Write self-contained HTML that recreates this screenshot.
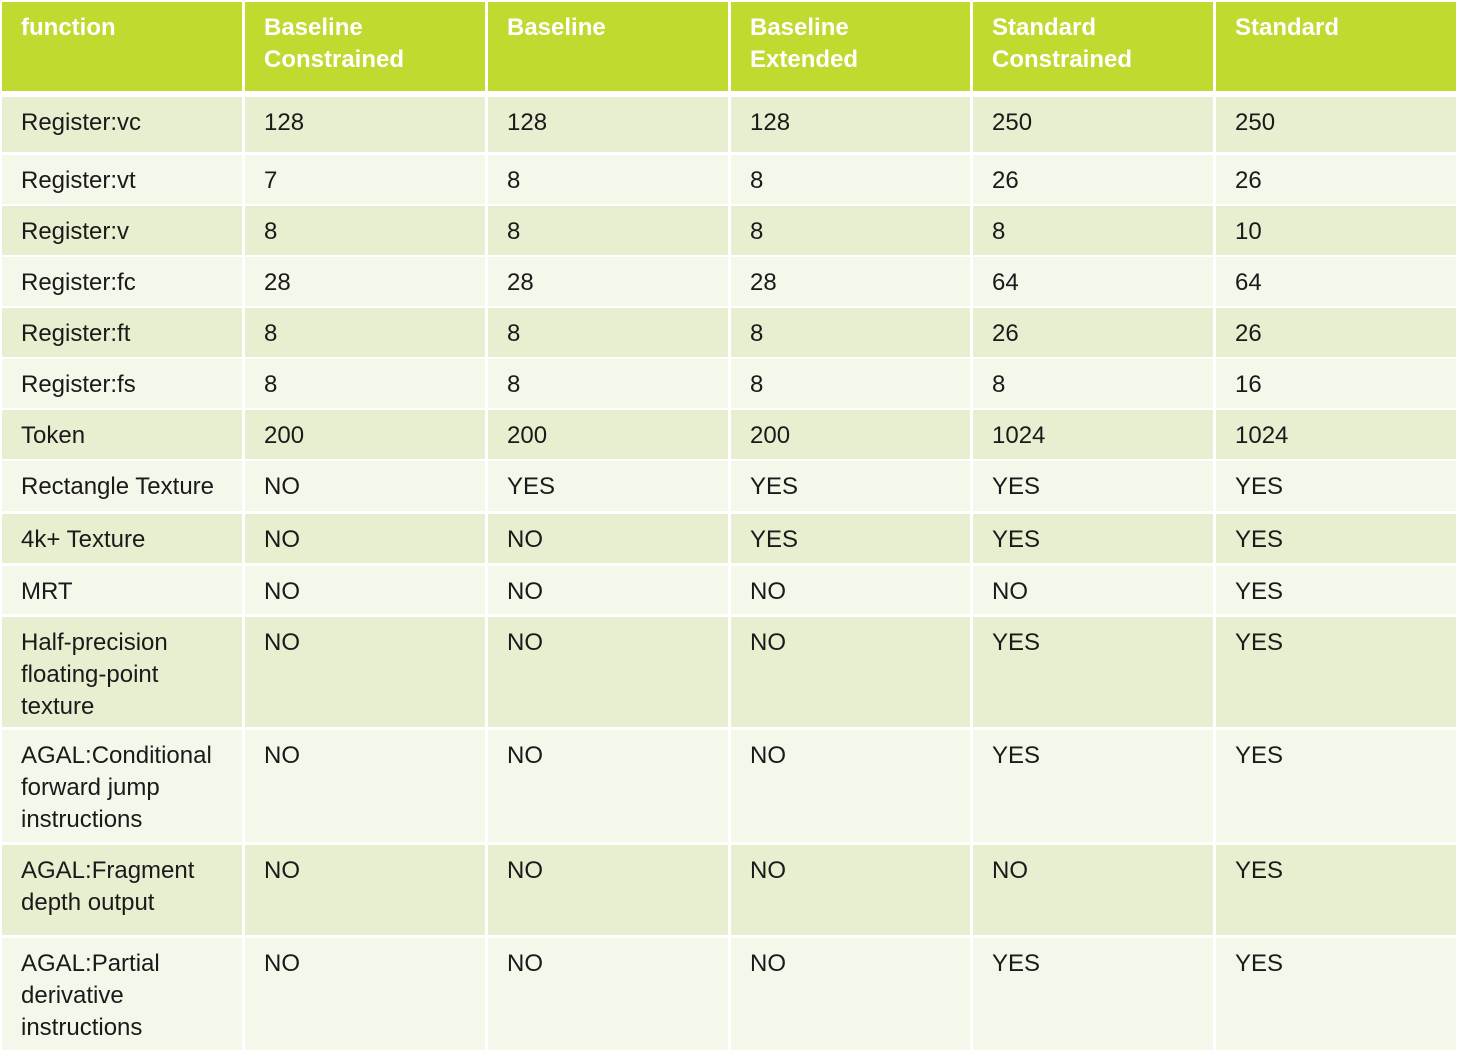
<!DOCTYPE html>
<html><head><meta charset="utf-8"><style>
body{margin:0;width:1458px;height:1058px;background:#fff;position:relative;overflow:hidden;font-family:"Liberation Sans",sans-serif;color:#1a1a1a}
.r{position:absolute;left:0;width:1458px}
.c{position:absolute;top:0;bottom:0;box-sizing:border-box;padding:10px 0 0 19px;font-size:24px;line-height:32px}
.h .c{background:#c2d92f;color:#fff;font-weight:bold;font-size:24px}
.o .c{background:#e8efd0}
.e .c{background:#f4f8ea}
.c1{left:2px;width:240px}.c2{left:245px;width:240px}.c3{left:488px;width:240px}.c4{left:731px;width:239px}.c5{left:973px;width:240px}.c6{left:1216px;width:240px}
</style></head><body>
<div class="r h" style="top:2px;height:89px"><div class="c c1">function</div><div class="c c2">Baseline<br>Constrained</div><div class="c c3">Baseline</div><div class="c c4">Baseline<br>Extended</div><div class="c c5">Standard<br>Constrained</div><div class="c c6">Standard</div></div>
<div class="r o" style="top:97px;height:55px"><div class="c c1">Register:vc</div><div class="c c2">128</div><div class="c c3">128</div><div class="c c4">128</div><div class="c c5">250</div><div class="c c6">250</div></div>
<div class="r e" style="top:155px;height:49px"><div class="c c1">Register:vt</div><div class="c c2">7</div><div class="c c3">8</div><div class="c c4">8</div><div class="c c5">26</div><div class="c c6">26</div></div>
<div class="r o" style="top:206px;height:49px"><div class="c c1">Register:v</div><div class="c c2">8</div><div class="c c3">8</div><div class="c c4">8</div><div class="c c5">8</div><div class="c c6">10</div></div>
<div class="r e" style="top:257px;height:49px"><div class="c c1">Register:fc</div><div class="c c2">28</div><div class="c c3">28</div><div class="c c4">28</div><div class="c c5">64</div><div class="c c6">64</div></div>
<div class="r o" style="top:308px;height:49px"><div class="c c1">Register:ft</div><div class="c c2">8</div><div class="c c3">8</div><div class="c c4">8</div><div class="c c5">26</div><div class="c c6">26</div></div>
<div class="r e" style="top:359px;height:49px"><div class="c c1">Register:fs</div><div class="c c2">8</div><div class="c c3">8</div><div class="c c4">8</div><div class="c c5">8</div><div class="c c6">16</div></div>
<div class="r o" style="top:410px;height:49px"><div class="c c1">Token</div><div class="c c2">200</div><div class="c c3">200</div><div class="c c4">200</div><div class="c c5">1024</div><div class="c c6">1024</div></div>
<div class="r e" style="top:461px;height:50px"><div class="c c1">Rectangle Texture</div><div class="c c2">NO</div><div class="c c3">YES</div><div class="c c4">YES</div><div class="c c5">YES</div><div class="c c6">YES</div></div>
<div class="r o" style="top:514px;height:49px"><div class="c c1">4k+ Texture</div><div class="c c2">NO</div><div class="c c3">NO</div><div class="c c4">YES</div><div class="c c5">YES</div><div class="c c6">YES</div></div>
<div class="r e" style="top:566px;height:48px"><div class="c c1">MRT</div><div class="c c2">NO</div><div class="c c3">NO</div><div class="c c4">NO</div><div class="c c5">NO</div><div class="c c6">YES</div></div>
<div class="r o" style="top:617px;height:110px"><div class="c c1">Half-precision<br>floating-point<br>texture</div><div class="c c2">NO</div><div class="c c3">NO</div><div class="c c4">NO</div><div class="c c5">YES</div><div class="c c6">YES</div></div>
<div class="r e" style="top:730px;height:112px"><div class="c c1">AGAL:Conditional<br>forward jump<br>instructions</div><div class="c c2">NO</div><div class="c c3">NO</div><div class="c c4">NO</div><div class="c c5">YES</div><div class="c c6">YES</div></div>
<div class="r o" style="top:845px;height:90px"><div class="c c1">AGAL:Fragment<br>depth output</div><div class="c c2">NO</div><div class="c c3">NO</div><div class="c c4">NO</div><div class="c c5">NO</div><div class="c c6">YES</div></div>
<div class="r e" style="top:938px;height:112px"><div class="c c1">AGAL:Partial<br>derivative<br>instructions</div><div class="c c2">NO</div><div class="c c3">NO</div><div class="c c4">NO</div><div class="c c5">YES</div><div class="c c6">YES</div></div>
</body></html>
